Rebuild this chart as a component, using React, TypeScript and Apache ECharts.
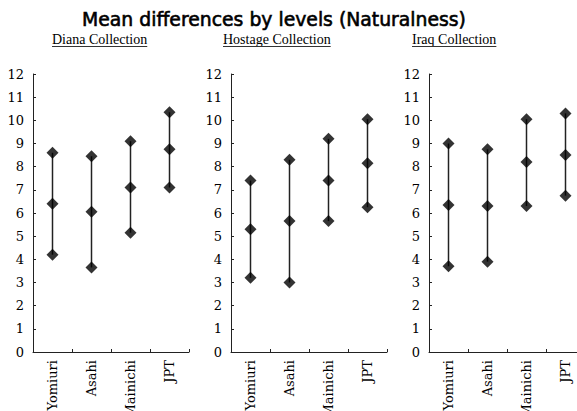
import React, { useEffect, useRef } from "react";
import * as echarts from "echarts";

const categories = ["Yomiuri", "Asahi", "Mainichi", "JPT"];
const yTicks = [0, 12];

const dianaHigh = [8.6, 8.45, 9.1, 10.35];
const dianaMean = [6.4, 6.05, 7.1, 8.75];
const dianaLow = [4.2, 3.65, 5.15, 7.1];

const hostageHigh = [7.4, 8.3, 9.2, 10.05];
const hostageMean = [5.3, 5.65, 7.4, 8.15];
const hostageLow = [3.2, 3.0, 5.65, 6.25];

const iraqHigh = [9.0, 8.75, 10.05, 10.3];
const iraqMean = [6.35, 6.3, 8.2, 8.5];
const iraqLow = [3.7, 3.9, 6.3, 6.75];

const panelTitles = ["Diana Collection", "Hostage Collection", "Iraq Collection"];
const mainTitle = "Mean differences by levels (Naturalness)";

const panels = [
  { high: dianaHigh, mean: dianaMean, low: dianaLow },
  { high: hostageHigh, mean: hostageMean, low: hostageLow },
  { high: iraqHigh, mean: iraqMean, low: iraqLow },
];

const gridLefts = [33, 231, 429];
const subtitleX = [52, 223, 412];
const serif = "DejaVu Serif";
const subFont = "Liberation Serif";
const titleFont = "DejaVu Sans";

function measure(text: string, font: string): number {
  const c = document.createElement("canvas");
  const ctx = c.getContext("2d");
  if (!ctx) return text.length * 7;
  ctx.font = font;
  return ctx.measureText(text).width;
}

export default function App() {
  const ref = useRef<HTMLDivElement>(null);
  useEffect(() => {
    if (!ref.current) return;
    const chart = echarts.init(ref.current, null, { renderer: "svg" });

    const grid = gridLefts.map((l) => ({
      left: l,
      top: 74,
      width: 156,
      height: 278,
      outerBoundsMode: "none",
      containLabel: false,
    }));
    const xAxis = panels.map((_, i) => ({
      type: "category" as const,
      gridIndex: i,
      data: categories,
      boundaryGap: true,
      axisLine: { lineStyle: { color: "#222", width: 1 } },
      axisTick: { show: true, inside: true, length: 3, lineStyle: { color: "#222" } },
      axisLabel: { rotate: 90, margin: 8, color: "#000", fontFamily: serif, fontSize: 13 },
      splitLine: { show: false },
    }));
    const yAxis = panels.map((_, i) => ({
      type: "value" as const,
      gridIndex: i,
      min: yTicks[0],
      max: yTicks[1],
      interval: 1,
      axisLine: { show: true, lineStyle: { color: "#222", width: 1 } },
      axisTick: { show: true, inside: true, length: 3, lineStyle: { color: "#222" } },
      axisLabel: { margin: 9, color: "#000", fontFamily: serif, fontSize: 13 },
      splitLine: { show: false },
    }));

    const series: any[] = [];
    panels.forEach((p, i) => {
      series.push({
        type: "custom",
        xAxisIndex: i,
        yAxisIndex: i,
        encode: { x: 0, y: [1, 2] },
        data: categories.map((_, k) => [k, p.low[k], p.high[k]]),
        renderItem: (params: any, api: any) => {
          const a = api.coord([api.value(0), api.value(1)]);
          const b = api.coord([api.value(0), api.value(2)]);
          return {
            type: "line",
            shape: { x1: a[0], y1: a[1], x2: b[0], y2: b[1] },
            style: { stroke: "#222", lineWidth: 1.5 },
          };
        },
        z: 1,
      });
      [p.high, p.mean, p.low].forEach((arr) => {
        series.push({
          type: "scatter",
          xAxisIndex: i,
          yAxisIndex: i,
          symbol: "diamond",
          symbolSize: 12,
          itemStyle: { color: "#000" },
          data: categories.map((c, k) => [c, arr[k]]),
          z: 3,
        });
      });
    });

    const subFontStr = `14px "${subFont}"`;
    const graphic: any[] = [];
    panelTitles.forEach((t, i) => {
      const w = measure(t, subFontStr);
      graphic.push({
        type: "text",
        left: subtitleX[i],
        top: 32,
        style: { text: t, fill: "#000", font: subFontStr },
      });
      graphic.push({
        type: "line",
        shape: { x1: subtitleX[i], y1: 46.5, x2: subtitleX[i] + w, y2: 46.5 },
        style: { stroke: "#333", lineWidth: 1 },
      });
    });

    const baseW = measure(mainTitle, `20px "${titleFont}"`);
    const titleSize = Math.max(16, Math.min(22, (20 * 384) / (baseW || 384)));

    chart.setOption({
      animation: false,
      backgroundColor: "#fff",
      title: {
        text: mainTitle,
        left: 269,
        textAlign: "center",
        top: 5,
        textStyle: {
          fontFamily: titleFont,
          fontSize: titleSize,
          fontWeight: "normal",
          color: "#000",
          textBorderColor: "#000",
          textBorderWidth: 0.6,
        },
      },
      grid,
      xAxis,
      yAxis,
      series,
      graphic,
    });
    return () => chart.dispose();
  }, []);
  return (
    <div
      ref={ref}
      style={{ position: "fixed", left: 0, top: 0, width: 577, height: 411 }}
    />
  );
}
